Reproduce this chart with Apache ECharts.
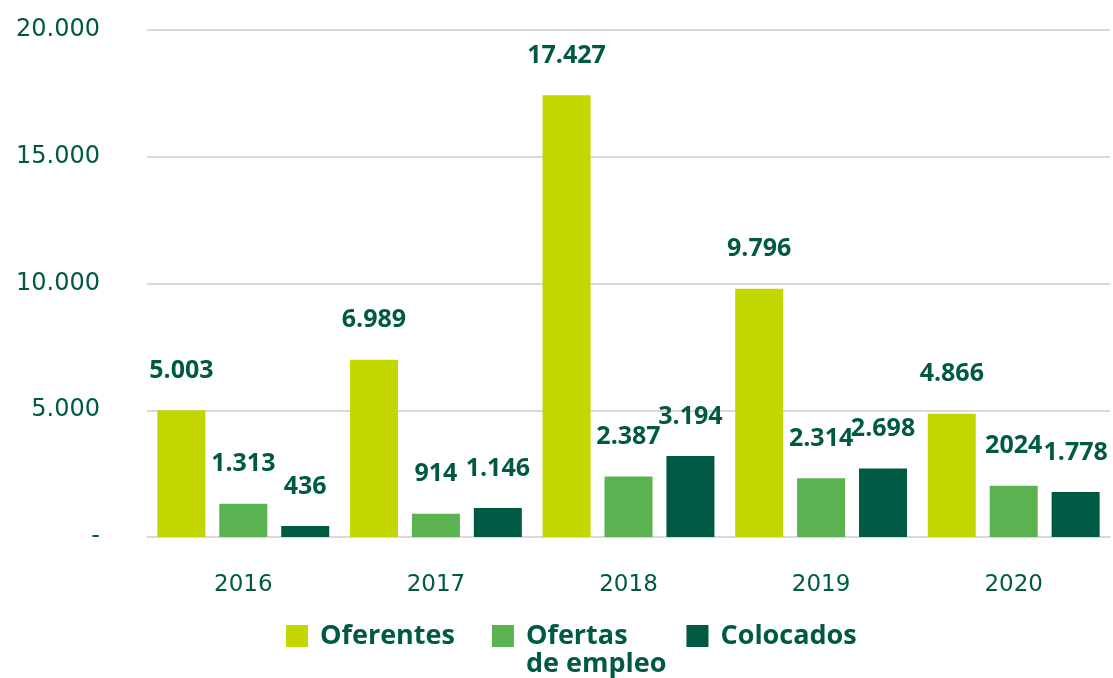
<!DOCTYPE html>
<html>
<head>
<meta charset="utf-8">
<script src="https://cdn.jsdelivr.net/npm/echarts@6/dist/echarts.min.js"></script>
<style>
    html, body { margin: 0; padding: 0; background: #fff; }
    #chart { width: 1113px; height: 678px; }
</style>
</head>
<body>
<div id="chart"></div>
<script>
// datos del gráfico
const years = ['2016', '2017', '2018', '2019', '2020']
const oferentes = [5003, 6989, 17427, 9796, 4866]
const ofertasEmpleo = [1313, 914, 2387, 2314, 2024]
const colocados = [436, 1146, 3194, 2698, 1778]
// etiquetas que en el original salen sin punto de miles
const ofertasSinPunto = ['2020']

const textColor = '#005a43'
const boldFont = '"Open Sans", sans-serif'
const axisFont = '"DejaVu Sans", sans-serif'

// 5003 -> 5.003
function miles(v) {
    return String(v).replace(/\B(?=(\d{3})+(?!\d))/g, '.')
}

function serie(name, data, color, plainYears) {
    return {
        name: name,
        type: 'bar',
        data: data,
        barWidth: 48,
        barGap: '29%',
        itemStyle: { color: color },
        label: {
            show: true,
            position: 'top',
            distance: 27,
            color: textColor,
            fontFamily: boldFont,
            fontWeight: 'bold',
            fontSize: 25,
            formatter: function (p) {
                if (plainYears && plainYears.indexOf(p.name) >= 0) return String(p.value)
                return miles(p.value)
            }
        }
    }
}

const mycharts = echarts.init(document.getElementById('chart'))
mycharts.setOption({
    animation: false,
    grid: { left: 147, right: 3, top: 30, bottom: 141 },
    legend: {
        top: 594,
        left: 286,
        padding: 0,
        itemWidth: 22,
        itemHeight: 22,
        itemGap: 20,
        icon: 'rect',
        textStyle: {
            color: textColor,
            fontFamily: boldFont,
            fontWeight: 'bold',
            fontSize: 27,
            lineHeight: 28,
            padding: [0, 0, 0, 7]
        },
        // línea vacía delante para que "Ofertas" quede a la altura del cuadrado
        formatter: function (name) {
            return name === 'Ofertas de empleo' ? ' \nOfertas\nde empleo' : name
        },
        data: [
            { name: 'Oferentes', textStyle: { padding: [0, 17, 0, 7] } },
            { name: 'Ofertas de empleo' },
            { name: 'Colocados' }
        ]
    },
    xAxis: {
        type: 'category',
        data: years,
        axisLine: { show: true, lineStyle: { color: '#d9d9d9', width: 2 } },
        axisTick: { show: false },
        axisLabel: { color: textColor, fontFamily: axisFont, fontSize: 23, margin: 37 }
    },
    yAxis: {
        type: 'value',
        min: 0,
        max: 20000,
        interval: 5000,
        axisLine: { show: false },
        axisTick: { show: false },
        splitLine: { lineStyle: { color: '#d9d9d9', width: 2 } },
        axisLabel: {
            color: textColor,
            fontFamily: axisFont,
            fontSize: 24,
            margin: 47,
            formatter: function (v) { return v === 0 ? '-' : miles(v) }
        }
    },
    series: [
        serie('Oferentes', oferentes, '#c4d600'),
        serie('Ofertas de empleo', ofertasEmpleo, '#5ab350', ofertasSinPunto),
        serie('Colocados', colocados, '#005a43')
    ]
})
</script>
</body>
</html>
